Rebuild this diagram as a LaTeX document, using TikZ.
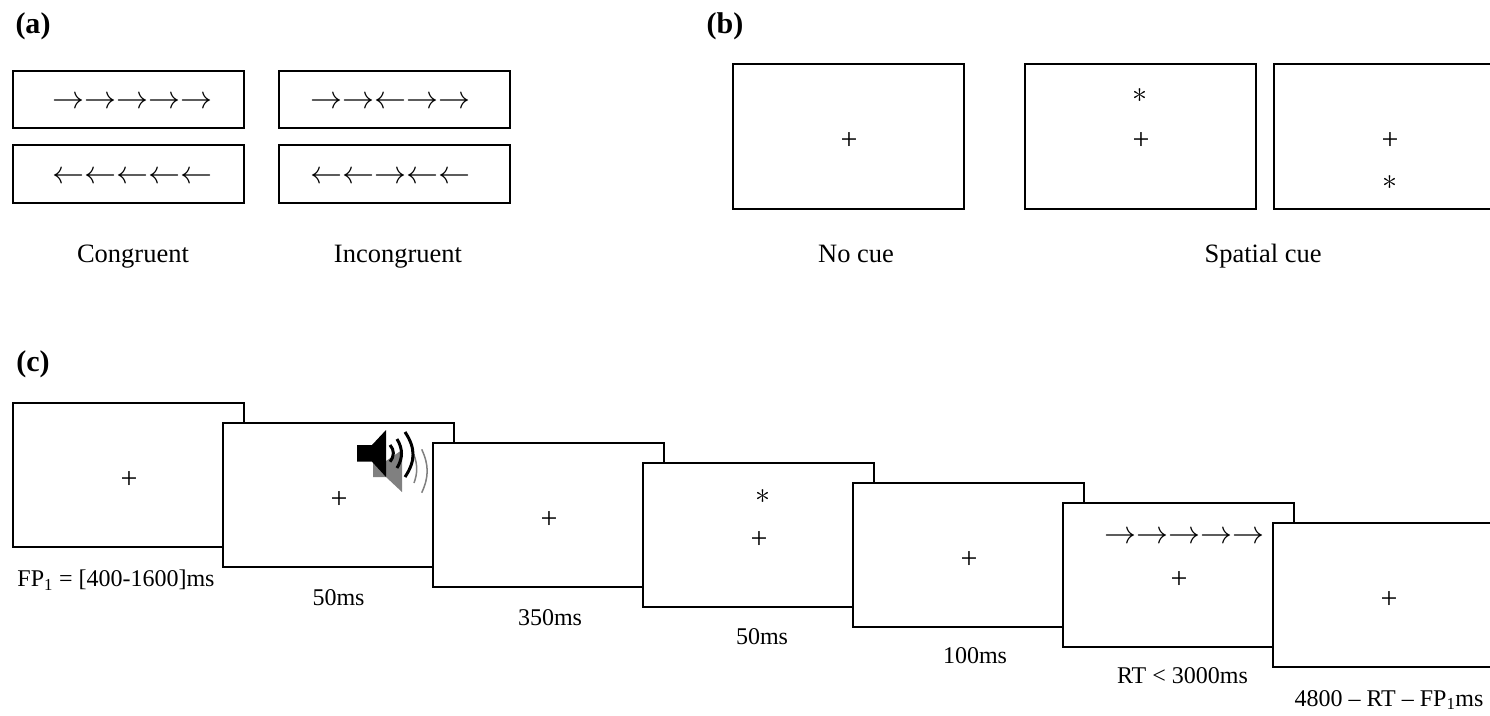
\documentclass[tikz,border=0pt]{standalone}
\usepackage{fontspec}
\setmainfont{Liberation Serif}
\usepackage{tikz}
\definecolor{ink}{RGB}{0, 0, 0}
\definecolor{speakergray}{RGB}{128, 128, 128}
\def\arrowsright{$\rightarrow\rightarrow\rightarrow\rightarrow\rightarrow$}
\def\arrowsleft{$\leftarrow\leftarrow\leftarrow\leftarrow\leftarrow$}

\begin{document}
\begin{tikzpicture}[x=1pt, y=-1pt, line cap=butt,
    frame/.style={draw=ink, fill=white, line width=2pt, inner sep=0pt, minimum width=230.5pt, minimum height=144.5pt},
    strip/.style={draw=ink, fill=white, line width=2pt, inner sep=0pt, minimum width=230.5pt, minimum height=57.5pt},
    flanker/.style={scale=3.2, inner sep=0pt, yshift=-0.94pt},
    fixation/.style={font=\fontsize{30}{34}\selectfont, inner sep=0pt, xshift=0.5pt, yshift=-4.7pt},
    cue/.style={scale=3, inner sep=0pt},
    panel/.style={font=\fontsize{30}{34}\selectfont\bfseries, inner sep=0pt, anchor=base},
    caption/.style={font=\fontsize{26.5}{30}\selectfont, inner sep=0pt, anchor=base},
    timing/.style={font=\fontsize{24}{28}\selectfont, inner sep=0pt, anchor=base}]

    \clip (0, 0) rectangle (1490, 715);

    % panel a
    \node[panel] (labela) at (33, 33) {(a)};
    \node[strip] (conup) at (128.5, 99.5) {};
    \node[strip] (condown) at (128.5, 174) {};
    \node[strip] (incup) at (394.5, 99.5) {};
    \node[strip] (incdown) at (394.5, 174) {};
    \node[flanker] at (132, 100) {\arrowsright};
    \node[flanker] at (132, 175) {\arrowsleft};
    \node[flanker] at (390.5, 100) {$\rightarrow\rightarrow\leftarrow\rightarrow\rightarrow$};
    \node[flanker] at (390, 175) {$\leftarrow\leftarrow\rightarrow\leftarrow\leftarrow$};
    \node[caption] (congruent) at (133, 262) {Congruent};
    \node[caption] (incongruent) at (398, 262) {Incongruent};

    % panel b
    \node[panel] (labelb) at (725, 33) {(b)};
    \node[frame] (nocue) at (848.5, 136.5) {};
    \node[frame] (cueup) at (1140.5, 136.5) {};
    \node[frame] (cuedown) at (1389.5, 136.5) {};
    \node[fixation] at (nocue) {+};
    \node[fixation] at (cueup) {+};
    \node[fixation] at (cuedown) {+};
    \node[cue] (starup) at (1140, 96) {$\ast$};
    \node[cue] (stardown) at (1390, 182.5) {$\ast$};
    \node[caption] (nocuetext) at (856, 262) {No cue};
    \node[caption] (spatialtext) at (1263, 262) {Spatial cue};

    % panel c
    \node[panel] (labelc) at (33, 371) {(c)};
    \node[frame] (fixone) at (128.5, 475) {};
    \node[frame] (alert) at (338.5, 495) {};
    \node[frame] (delay) at (548.5, 515) {};
    \node[frame] (spatial) at (758.5, 535) {};
    \node[frame] (gap) at (968.5, 555) {};
    \node[frame] (target) at (1178.5, 575) {};
    \node[frame] (fixtwo) at (1388.5, 595) {};

    \node[fixation] at (fixone) {+};
    \node[fixation] at (alert) {+};
    \node[fixation] at (delay) {+};
    \node[fixation] at (spatial) {+};
    \node[fixation] at (gap) {+};
    \node[fixation] at (target) {+};
    \node[fixation] at (fixtwo) {+};
    \node[cue] (starc) at (762.5, 497) {$\ast$};
    \node[flanker] (targetarrows) at (1184.5, 535) {\arrowsright};

    % speaker, gray one first
    \fill[speakergray] (373, 461) -- (386, 461) -- (402, 450) -- (402, 492) -- (386, 477) -- (373, 477) -- cycle;
    \draw[speakergray, line width=1.5pt] (414, 455) .. controls (417.6, 465) and (417.6, 473) .. (414, 483);
    \draw[speakergray, line width=1.5pt] (421.7, 449.3) .. controls (429, 465) and (429, 477) .. (421.7, 492.7);
    \fill[ink] (357, 445) -- (372, 445) -- (386, 430) -- (386, 477) -- (372, 461.7) -- (357, 461.7) -- cycle;
    \draw[ink, line width=3pt] (390, 445) .. controls (394.5, 450) and (394.5, 456) .. (390, 461.7);
    \draw[ink, line width=3pt] (397, 439) .. controls (403, 449) and (403, 458) .. (397, 468);
    \draw[ink, line width=3pt] (405, 432) .. controls (415.7, 448) and (415.7, 461) .. (405, 477);

    \node[timing] (fptext) at (116, 586.5) {FP\textsubscript{1} = [400-1600]ms};
    \node[timing] (alerttext) at (338.5, 605.5) {50ms};
    \node[timing] (delaytext) at (550, 625.5) {350ms};
    \node[timing] (spatialtext2) at (762, 644.5) {50ms};
    \node[timing] (gaptext) at (975, 663.5) {100ms};
    \node[timing] (targettext) at (1182.5, 683.5) {RT < 3000ms};
    \node[timing] (fixtext) at (1389, 706) {4800 – RT – FP\textsubscript{1}ms};

\end{tikzpicture}
\end{document}
